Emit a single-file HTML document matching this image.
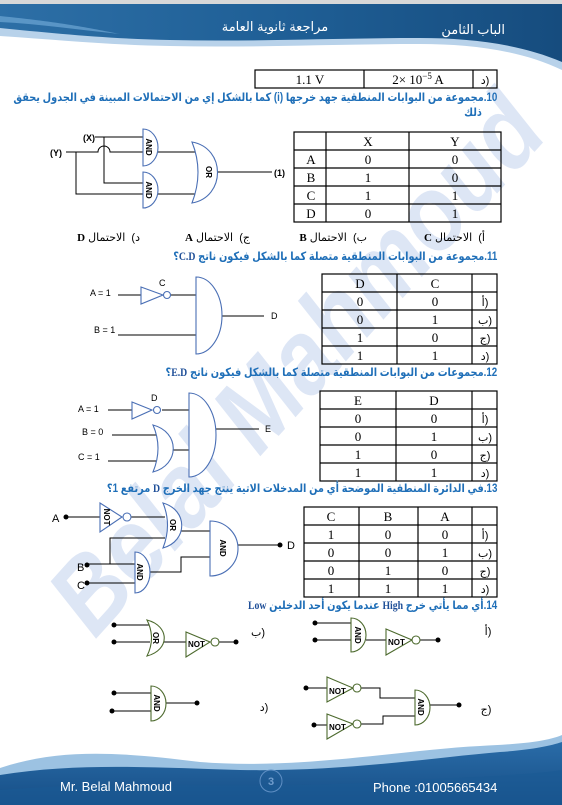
<!DOCTYPE html>
<html><head><meta charset="utf-8"><style>
html,body{margin:0;padding:0;background:#fff}
#wrap{position:relative;width:562px;height:805px;overflow:hidden}
svg{display:block;position:absolute;left:0;top:0}
.ar{font-family:"Liberation Sans","Noto Sans CJK SC","DejaVu Sans",sans-serif}
.tt{font-family:"Liberation Serif",serif;font-size:13px;fill:#000}
.lb{font-family:"Liberation Sans",sans-serif;font-size:9px;fill:#000}
.g{fill:#fff;stroke:#4a6fb5;stroke-width:1.1}
.gg{fill:#fff;stroke:#4d6a2e;stroke-width:1.1}
.w{stroke:#000;stroke-width:1;fill:none}
.gt{font-family:"Liberation Sans",sans-serif;font-size:8px;font-weight:bold;fill:#000}
.qd{position:absolute;right:65px;direction:rtl;white-space:nowrap;font-family:"Liberation Sans","DejaVu Sans",sans-serif;font-weight:bold;color:#1f6fb8;font-size:11.5px;line-height:13px;transform:scaleX(0.85);transform-origin:right center}
.qd b{font-family:"Liberation Serif",serif;color:#1f4f98}
.an{position:absolute;direction:rtl;white-space:nowrap;font-family:"Liberation Sans","DejaVu Sans",sans-serif;font-size:11px;line-height:13px;color:#000}
.an b{font-family:"Liberation Serif",serif}
</style></head><body><div id="wrap">
<svg width="562" height="805" viewBox="0 0 562 805" xmlns="http://www.w3.org/2000/svg">
<defs>
<linearGradient id="hd" x1="0" y1="0" x2="1" y2="0"><stop offset="0" stop-color="#2d6fa6"/><stop offset="0.5" stop-color="#1f5f96"/><stop offset="1" stop-color="#164c7e"/></linearGradient>
<linearGradient id="ft" x1="0" y1="0" x2="0" y2="1"><stop offset="0" stop-color="#2a6ca8"/><stop offset="1" stop-color="#164e86"/></linearGradient>
</defs>
<rect x="0" y="0" width="562" height="4" fill="#d8d8d8"/>
<path d="M0,4 H562 V70 C520,50 470,44 420,44 C330,44 250,48 170,46 C110,45 60,40 0,36 Z" fill="#b8d2ea"/>
<path d="M0,4 H562 V62 C520,44 470,38 420,38 C330,38 250,42 170,40 C110,39 50,33 0,28 Z" fill="url(#hd)"/>
<path d="M0,22 C40,24 80,30 120,34 C90,28 60,22 0,16 Z" fill="#6ea6d4" opacity="0.7"/>
<text x="275" y="31" text-anchor="middle" class="ar" font-size="13" fill="#fff">مراجعة ثانوية العامة</text>
<text x="505" y="34" text-anchor="end" class="ar" font-size="13" fill="#fff">الباب الثامن</text>

<text transform="translate(95,640) rotate(-48)" font-family="Liberation Sans" font-style="italic" font-weight="bold" font-size="105" fill="#c3d2ee" opacity="0.55" textLength="680" lengthAdjust="spacingAndGlyphs">Belal Mahmoud</text>

<g stroke="#000" stroke-width="1.2" fill="none">
<rect x="255" y="70" width="242" height="18"/>
<line x1="364" y1="70" x2="364" y2="88"/><line x1="473" y1="70" x2="473" y2="88"/>
</g>
<text x="310" y="84" text-anchor="middle" class="tt">1.1 V</text>
<text x="418" y="84" text-anchor="middle" class="tt">2× 10<tspan dy="-5" font-size="9">−5</tspan><tspan dy="5"> A</tspan></text>
<text x="485" y="84" text-anchor="middle" class="ar" font-size="11">د)</text>

<text x="83" y="141" class="lb" font-weight="bold">(X)</text>
<text x="50" y="156" class="lb" font-weight="bold">(Y)</text>
<path class="w" d="M95,137 H143 M104,137 V183 H143 M66,152 H98 A6,6 0 0 1 110,152 H143 M76,152 V194 H143 M158,152 H195 M158,194 H195 M217,172 H272"/>
<path class="g" d="M143,129 A15,18.5 0 0 1 143,166 Z"/>
<path class="g" d="M143,172 A15,18 0 0 1 143,208 Z"/>
<path class="g" d="M192,142 C226,148 226,197 192,203 Q204,172 192,142 Z"/>
<text transform="translate(146,147) rotate(90)" text-anchor="middle" class="gt">AND</text>
<text transform="translate(146,190) rotate(90)" text-anchor="middle" class="gt">AND</text>
<text transform="translate(206,172) rotate(90)" text-anchor="middle" class="gt">OR</text>
<text x="274" y="176" class="lb" font-weight="bold">(1)</text>

<g stroke="#000" stroke-width="1.2" fill="none">
<rect x="294" y="132" width="207" height="90"/>
<line x1="326" y1="132" x2="326" y2="222"/><line x1="409" y1="132" x2="409" y2="222"/>
<line x1="294" y1="150" x2="501" y2="150"/><line x1="294" y1="168" x2="501" y2="168"/><line x1="294" y1="186" x2="501" y2="186"/><line x1="294" y1="204" x2="501" y2="204"/>
</g>
<g class="tt" text-anchor="middle">
<text x="368" y="146">X</text><text x="455" y="146">Y</text>
<text x="311" y="164">A</text><text x="368" y="164">0</text><text x="455" y="164">0</text>
<text x="311" y="182">B</text><text x="368" y="182">1</text><text x="455" y="182">0</text>
<text x="311" y="200">C</text><text x="368" y="200">1</text><text x="455" y="200">1</text>
<text x="311" y="218">D</text><text x="368" y="218">0</text><text x="455" y="218">1</text>
</g>

<text x="90" y="296" class="lb">A = 1</text>
<text x="94" y="333" class="lb">B = 1</text>
<text x="159" y="286" class="lb">C</text>
<path class="w" d="M118,295 H141 M171,295 H196 M118,335 H196 M222,316 H264"/>
<path class="g" d="M141,287 L163,295 L141,304 Z"/>
<circle class="g" cx="167" cy="295" r="3.5"/>
<path class="g" d="M196,277 A26,38.5 0 0 1 196,354 Z"/>
<text x="271" y="319" class="lb">D</text>
<g stroke="#000" stroke-width="1.2" fill="none">
<rect x="322" y="274" width="175" height="90"/>
<line x1="397" y1="274" x2="397" y2="364"/><line x1="472" y1="274" x2="472" y2="364"/>
<line x1="322" y1="292" x2="497" y2="292"/><line x1="322" y1="310" x2="497" y2="310"/><line x1="322" y1="328" x2="497" y2="328"/><line x1="322" y1="346" x2="497" y2="346"/>
</g>
<g class="tt" text-anchor="middle">
<text x="360" y="288">D</text><text x="435" y="288">C</text>
<text x="360" y="306">0</text><text x="435" y="306">0</text>
<text x="360" y="324">0</text><text x="435" y="324">1</text>
<text x="360" y="342">1</text><text x="435" y="342">0</text>
<text x="360" y="360">1</text><text x="435" y="360">1</text>
</g>
<g class="ar" font-size="11" text-anchor="middle"><text x="485" y="306">أ)</text><text x="485" y="324">ب)</text><text x="485" y="342">ج)</text><text x="485" y="360">د)</text></g>

<text x="78" y="412" class="lb">A = 1</text>
<text x="82" y="435" class="lb">B = 0</text>
<text x="78" y="460" class="lb">C = 1</text>
<text x="151" y="401" class="lb">D</text>
<path class="w" d="M108,410 H132 M162,410 H189 M112,435 H158 M108,461 H158 M172,450 H189 M216,429 H259"/>
<path class="g" d="M132,402 L152,410 L132,419 Z"/>
<circle class="g" cx="157" cy="410" r="3.5"/>
<path class="g" d="M189,393 A27,42 0 0 1 189,477 Z"/>
<path class="g" d="M153,425 C180,432 180,465 153,472 Q163,448 153,425 Z"/>
<text x="265" y="432" class="lb">E</text>
<g stroke="#000" stroke-width="1.2" fill="none">
<rect x="320" y="391" width="177" height="90"/>
<line x1="396" y1="391" x2="396" y2="481"/><line x1="472" y1="391" x2="472" y2="481"/>
<line x1="320" y1="409" x2="497" y2="409"/><line x1="320" y1="427" x2="497" y2="427"/><line x1="320" y1="445" x2="497" y2="445"/><line x1="320" y1="463" x2="497" y2="463"/>
</g>
<g class="tt" text-anchor="middle">
<text x="358" y="405">E</text><text x="434" y="405">D</text>
<text x="358" y="423">0</text><text x="434" y="423">0</text>
<text x="358" y="441">0</text><text x="434" y="441">1</text>
<text x="358" y="459">1</text><text x="434" y="459">0</text>
<text x="358" y="477">1</text><text x="434" y="477">1</text>
</g>
<g class="ar" font-size="11" text-anchor="middle"><text x="485" y="423">أ)</text><text x="485" y="441">ب)</text><text x="485" y="459">ج)</text><text x="485" y="477">د)</text></g>

<text x="52" y="522" font-family="Liberation Sans" font-size="11">A</text>
<text x="77" y="571" font-family="Liberation Sans" font-size="11">B</text>
<text x="77" y="589" font-family="Liberation Sans" font-size="11">C</text>
<circle cx="66" cy="517" r="2.5"/><circle cx="87" cy="565" r="2.5"/><circle cx="87" cy="583" r="2.5"/><circle cx="280" cy="545" r="2.5"/>
<path class="w" d="M66,517 H100 M131,517 H165 M87,564 H135 M110,564 V538 H165 M87,583 H135 M181,531 H210 M150,572 H181 V557 H210 M238,545 H280"/>
<path class="g" d="M100,503 L122,517 L100,532 Z"/>
<circle class="g" cx="127" cy="517" r="4"/>
<path class="g" d="M163,503 C188,510 188,541 163,548 Q172,525 163,503 Z"/>
<path class="g" d="M210,521 A28,27.5 0 0 1 210,576 Z"/>
<path class="g" d="M135,552 A15,20.5 0 0 1 135,593 Z"/>
<text transform="translate(104,517) rotate(90)" text-anchor="middle" class="gt">NOT</text>
<text transform="translate(170,525) rotate(90)" text-anchor="middle" class="gt">OR</text>
<text transform="translate(220,548) rotate(90)" text-anchor="middle" class="gt">AND</text>
<text transform="translate(137,572) rotate(90)" text-anchor="middle" class="gt">AND</text>
<text x="287" y="549" font-family="Liberation Sans" font-size="11">D</text>
<g stroke="#000" stroke-width="1.2" fill="none">
<rect x="304" y="507" width="193" height="90"/>
<line x1="359" y1="507" x2="359" y2="597"/><line x1="418" y1="507" x2="418" y2="597"/><line x1="472" y1="507" x2="472" y2="597"/>
<line x1="304" y1="525" x2="497" y2="525"/><line x1="304" y1="543" x2="497" y2="543"/><line x1="304" y1="561" x2="497" y2="561"/><line x1="304" y1="579" x2="497" y2="579"/>
</g>
<g class="tt" text-anchor="middle">
<text x="331" y="521">C</text><text x="388" y="521">B</text><text x="445" y="521">A</text>
<text x="331" y="539">1</text><text x="388" y="539">0</text><text x="445" y="539">0</text>
<text x="331" y="557">0</text><text x="388" y="557">0</text><text x="445" y="557">1</text>
<text x="331" y="575">0</text><text x="388" y="575">1</text><text x="445" y="575">0</text>
<text x="331" y="593">1</text><text x="388" y="593">1</text><text x="445" y="593">1</text>
</g>
<g class="ar" font-size="11" text-anchor="middle"><text x="485" y="539">أ)</text><text x="485" y="557">ب)</text><text x="485" y="575">ج)</text><text x="485" y="593">د)</text></g>

<g fill="#000">
<circle cx="315" cy="623" r="2.5"/><circle cx="315" cy="640" r="2.5"/><circle cx="438" cy="640" r="2.5"/>
<circle cx="114" cy="625" r="2.5"/><circle cx="114" cy="642" r="2.5"/><circle cx="236" cy="642" r="2.5"/>
<circle cx="306" cy="688" r="2.5"/><circle cx="314" cy="725" r="2.5"/><circle cx="459" cy="705" r="2.5"/>
<circle cx="114" cy="693" r="2.5"/><circle cx="112" cy="711" r="2.5"/><circle cx="197" cy="703" r="2.5"/>
</g>
<path class="w" d="M315,623 H351 M315,640 H351 M366,640 H386 M420,640 H438 M114,625 H150 M114,642 H150 M163,642 H186 M219,642 H236 M306,688 H327 M314,725 H327 M361,688 H380 V698 H415 M361,724 H383 V716 H415 M430,705 H459 M114,693 H151 M112,711 H151 M166,703 H197"/>
<path class="gg" d="M351,618 A15,17 0 0 1 351,652 Z"/>
<path class="gg" d="M386,629 L412,640 L386,655 Z"/><circle class="gg" cx="416" cy="640" r="4"/>
<path class="gg" d="M147,620 C170,626 170,650 147,656 Q156,638 147,620 Z"/>
<path class="gg" d="M186,632 L210,642 L186,657 Z"/><circle class="gg" cx="215" cy="642" r="4"/>
<path class="gg" d="M327,677 L353,688 L327,702 Z"/><circle class="gg" cx="357" cy="688" r="4"/>
<path class="gg" d="M327,714 L353,724 L327,739 Z"/><circle class="gg" cx="357" cy="724" r="4"/>
<path class="gg" d="M415,690 A15,17.5 0 0 1 415,725 Z"/>
<path class="gg" d="M151,686 A15,17.5 0 0 1 151,721 Z"/>
<g class="gt" font-weight="normal" fill="#1a2a6a">
<text transform="translate(355,635) rotate(90)" text-anchor="middle">AND</text>
<text x="388" y="645">NOT</text>
<text transform="translate(153,638) rotate(90)" text-anchor="middle">OR</text>
<text x="188" y="647">NOT</text>
<text x="329" y="694">NOT</text>
<text x="329" y="730">NOT</text>
<text transform="translate(418,707) rotate(90)" text-anchor="middle">AND</text>
<text transform="translate(154,703) rotate(90)" text-anchor="middle">AND</text>
</g>
<g class="ar" font-size="11" text-anchor="middle">
<text x="488" y="635">أ)</text><text x="258" y="636">ب)</text><text x="486" y="713">ج)</text><text x="264" y="711">د)</text>
</g>

<path d="M0,768 C60,748 120,752 200,762 C300,770 400,750 480,746 C520,744 545,742 562,735 V805 H0 Z" fill="#9cc2e2"/>
<path d="M0,775 C80,762 160,768 240,770 C340,772 430,758 500,752 C530,750 550,746 562,742 V805 H0 Z" fill="url(#ft)"/>
<path d="M0,790 C120,780 250,790 380,782 C460,777 520,776 562,770 V805 H0 Z" fill="#1a5a94" opacity="0.6"/>
<text x="60" y="791" font-family="Liberation Sans" font-size="13" fill="#fff">Mr. Belal Mahmoud</text>
<text x="373" y="792" font-family="Liberation Sans" font-size="13" fill="#fff">Phone :01005665434</text>
<circle cx="271" cy="781" r="11" fill="none" stroke="#5f8fc4" stroke-width="1"/>
<text x="271" y="785" text-anchor="middle" font-family="Liberation Sans" font-size="11" font-weight="bold" fill="#6f9ccc">3</text>
</svg>

<div class="qd" style="top:92px">10.مجموعة من البوابات المنطقية جهد خرجها (i) كما بالشكل إي من الاحتمالات المبينة في الجدول يحقق</div>
<div class="qd" style="top:107px;right:80px">ذلك</div>
<div class="an" style="top:232px;right:77px">أ)&nbsp; الاحتمال <b>C</b></div>
<div class="an" style="top:232px;right:195px">ب)&nbsp; الاحتمال <b>B</b></div>
<div class="an" style="top:232px;right:312px">ج)&nbsp; الاحتمال <b>A</b></div>
<div class="an" style="top:232px;right:422px">د)&nbsp; الاحتمال <b>D</b></div>
<div class="qd" style="top:251px">11.مجموعة من البوابات المنطقية متصلة كما بالشكل فيكون ناتج <b>C.D</b>؟</div>
<div class="qd" style="top:367px">12.مجموعات من البوابات المنطقية متصلة كما بالشكل فيكون ناتج <b>E.D</b>؟</div>
<div class="qd" style="top:483px">13.في الدائرة المنطقية الموضحة أي من المدخلات الاتية ينتج جهد الخرج <b>D</b> مرتفع 1؟</div>
<div class="qd" style="top:600px">14.أي مما يأتي خرج <b>High</b> عندما يكون أحد الدخلين <b>Low</b></div>
</div></body></html>
